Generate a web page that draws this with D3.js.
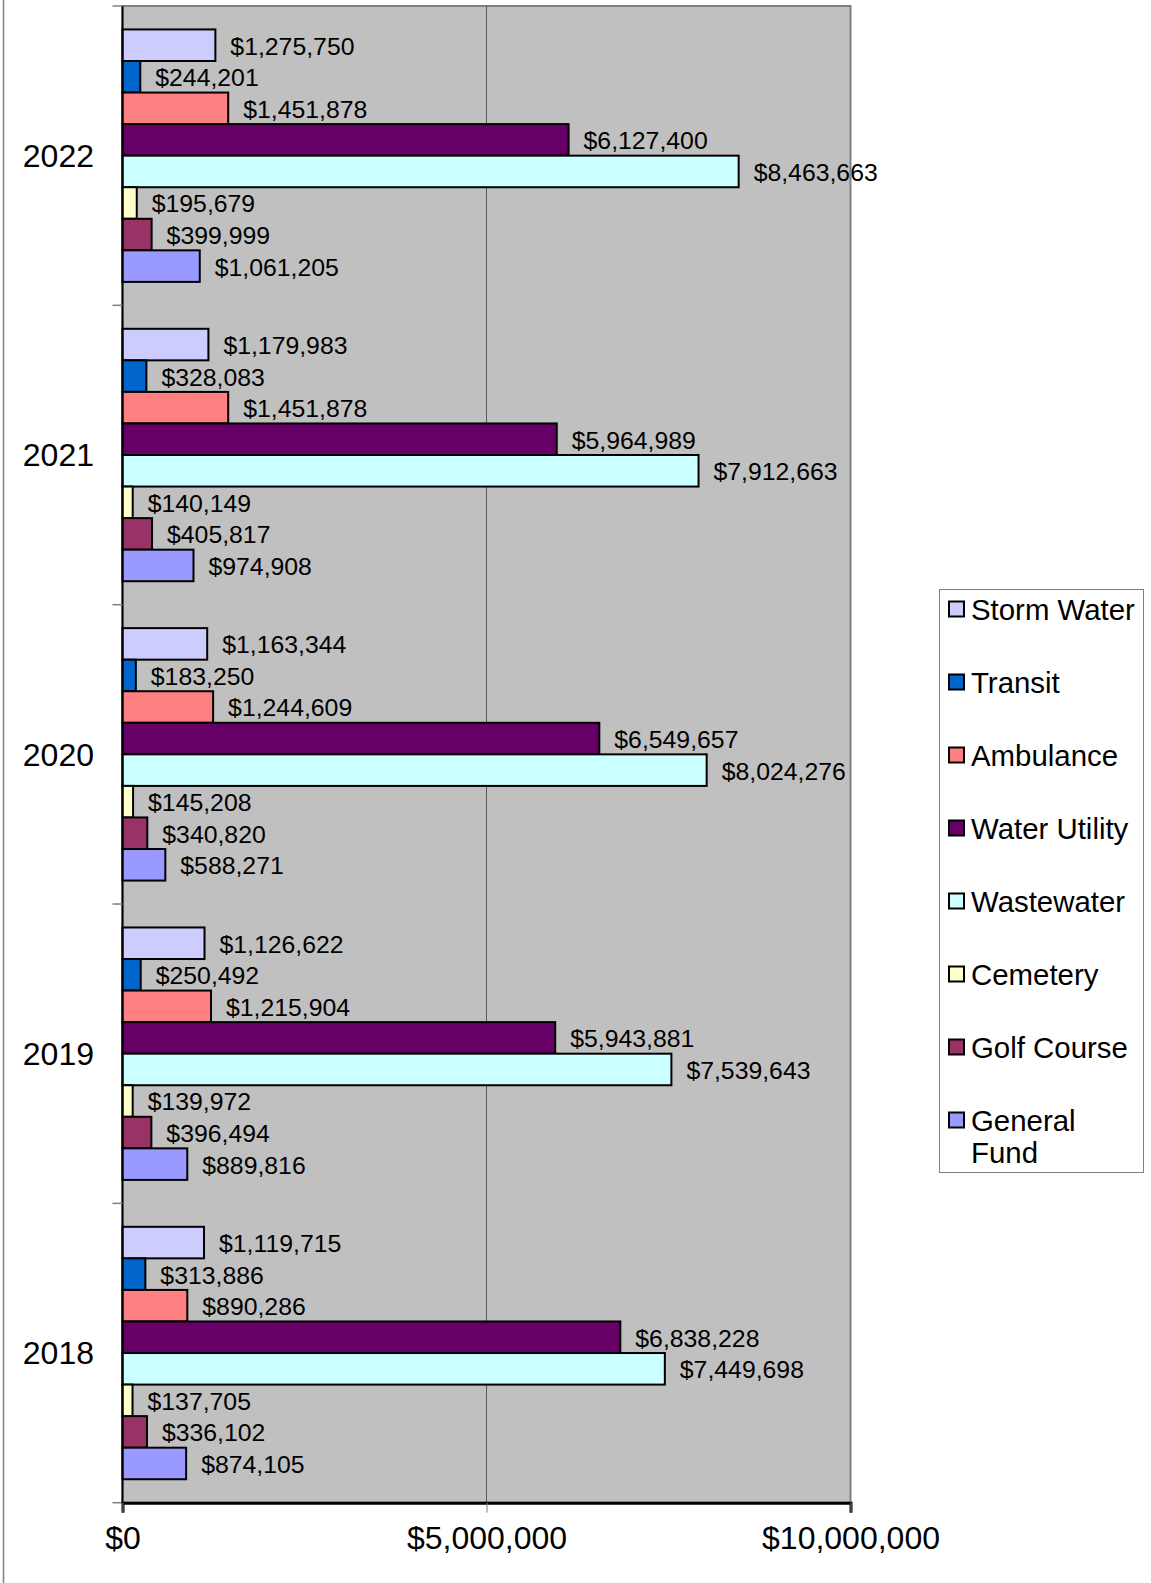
<!DOCTYPE html>
<html>
<head>
<meta charset="utf-8">
<script src="https://cdn.jsdelivr.net/npm/d3@7/dist/d3.min.js"></script>
<style>
  html, body { margin: 0; padding: 0; background: #fff; }
  svg { display: block; font-family: "Liberation Sans", Arial, sans-serif; }
</style>
</head>
<body>
<svg id="chart" width="1151" height="1583"></svg>
<script>
// Fiscal years, top to bottom
const years = ["2022", "2021", "2020", "2019", "2018"];

// Funds, in bar order within each year
const funds = ["Storm Water", "Transit", "Ambulance", "Water Utility",
               "Wastewater", "Cemetery", "Golf Course", "General Fund"];

const fundColors = ["#CCCCFF", "#0066CC", "#FF8080", "#660066",
                    "#CCFFFF", "#FFFFCC", "#993366", "#9999FF"];

// Amounts per fund, one array per year (same order as `funds`)
const values2022 = [1275750, 244201, 1451878, 6127400, 8463663, 195679, 399999, 1061205];
const values2021 = [1179983, 328083, 1451878, 5964989, 7912663, 140149, 405817, 974908];
const values2020 = [1163344, 183250, 1244609, 6549657, 8024276, 145208, 340820, 588271];
const values2019 = [1126622, 250492, 1215904, 5943881, 7539643, 139972, 396494, 889816];
const values2018 = [1119715, 313886, 890286, 6838228, 7449698, 137705, 336102, 874105];

const xTicks = [0, 5000000, 10000000];

const valuesByYear = {
  "2022": values2022, "2021": values2021, "2020": values2020,
  "2019": values2019, "2018": values2018
};

const svg = d3.select("#chart");

// Plot area
const plot = { left: 122.5, right: 850.5, top: 6, bottom: 1502.7 };

const x = d3.scaleLinear().domain([0, 10000000]).range([plot.left, plot.right]);
const y0 = d3.scaleBand().domain(years).range([plot.top, plot.bottom]).padding(0);
const y1 = d3.scaleBand().domain(funds).range([0, y0.bandwidth()])
  .paddingInner(0).paddingOuter(0.743);
const color = d3.scaleOrdinal().domain(funds).range(fundColors);

const money = d3.format("$,.0f");

// Outer frame edge on the left
svg.append("line")
  .attr("x1", 3.5).attr("x2", 3.5).attr("y1", 0).attr("y2", 1583)
  .attr("stroke", "#808080").attr("stroke-width", 1.5);

// Plot background
svg.append("rect")
  .attr("x", plot.left).attr("y", plot.top)
  .attr("width", plot.right - plot.left).attr("height", plot.bottom - plot.top)
  .attr("fill", "#C0C0C0").attr("stroke", "#808080").attr("stroke-width", 2);

// Vertical gridlines
svg.append("g").selectAll("line")
  .data(xTicks.slice(1, -1))
  .join("line")
  .attr("x1", d => x(d)).attr("x2", d => x(d))
  .attr("y1", plot.top).attr("y2", plot.bottom)
  .attr("stroke", "#5a5a5a").attr("stroke-width", 1);

// Bars and value labels
const groups = svg.append("g").selectAll("g")
  .data(years)
  .join("g")
  .attr("transform", d => `translate(0,${y0(d)})`);

groups.selectAll("rect")
  .data(yr => funds.map((f, i) => ({ fund: f, value: valuesByYear[yr][i] })))
  .join("rect")
  .attr("x", x(0))
  .attr("y", d => y1(d.fund))
  .attr("width", d => x(d.value) - x(0))
  .attr("height", y1.bandwidth())
  .attr("fill", d => color(d.fund))
  .attr("stroke", "#000").attr("stroke-width", 2);

groups.selectAll("text")
  .data(yr => funds.map((f, i) => ({ fund: f, value: valuesByYear[yr][i] })))
  .join("text")
  .attr("x", d => x(d.value) + 15)
  .attr("y", d => y1(d.fund) + y1.bandwidth() / 2)
  .attr("dy", "0.38em")
  .attr("font-size", 24.8)
  .attr("fill", "#000")
  .text(d => money(d.value));

// Y axis (categories) with ticks at the band boundaries
const yAxisG = svg.append("g");
yAxisG.append("line")
  .attr("x1", plot.left).attr("x2", plot.left)
  .attr("y1", plot.top).attr("y2", plot.bottom)
  .attr("stroke", "#000").attr("stroke-width", 2);
const boundaries = years.map(yr => y0(yr)).concat([plot.bottom]);
yAxisG.selectAll("line.tick")
  .data(boundaries)
  .join("line")
  .attr("class", "tick")
  .attr("x1", plot.left - 10).attr("x2", plot.left)
  .attr("y1", d => d).attr("y2", d => d)
  .attr("stroke", "#808080").attr("stroke-width", 1.5);
yAxisG.selectAll("text")
  .data(years)
  .join("text")
  .attr("x", 94)
  .attr("y", d => y0(d) + y0.bandwidth() / 2)
  .attr("dy", "0.35em")
  .attr("text-anchor", "end")
  .attr("font-size", 32)
  .text(d => d);

// X axis
const xAxis = d3.axisBottom(x)
  .tickValues(xTicks)
  .tickSize(10)
  .tickPadding(14)
  .tickFormat(money);
const xAxisG = svg.append("g")
  .attr("transform", `translate(0,${plot.bottom})`)
  .call(xAxis);
xAxisG.select(".domain").attr("stroke", "#000").attr("stroke-width", 3);
xAxisG.selectAll(".tick line").attr("stroke", "#808080").attr("stroke-width", 1);
xAxisG.selectAll(".tick text")
  .attr("font-family", "'Liberation Sans', Arial, sans-serif")
  .attr("font-size", 32)
  .attr("fill", "#000");

// Legend
const legend = svg.append("g");
legend.append("rect")
  .attr("x", 939.5).attr("y", 589.5)
  .attr("width", 204).attr("height", 583)
  .attr("fill", "#fff").attr("stroke", "#808080").attr("stroke-width", 1);

const legendY = d3.scalePoint().domain(funds).range([609, 1120]);

const items = legend.selectAll("g")
  .data(funds)
  .join("g")
  .attr("transform", d => `translate(0,${legendY(d)})`);
items.append("rect")
  .attr("x", 949).attr("y", -7.5)
  .attr("width", 15).attr("height", 15)
  .attr("fill", d => color(d))
  .attr("stroke", "#000").attr("stroke-width", 2);
items.append("text")
  .attr("x", 971)
  .attr("font-size", 29.4)
  .attr("fill", "#000")
  .each(function(d) {
    const t = d3.select(this);
    const lines = d === "General Fund" ? ["General", "Fund"] : [d];
    lines.forEach((ln, i) => {
      t.append("tspan").attr("x", 971).attr("y", i * 32).attr("dy", "0.36em").text(ln);
    });
  });
</script>
</body>
</html>
